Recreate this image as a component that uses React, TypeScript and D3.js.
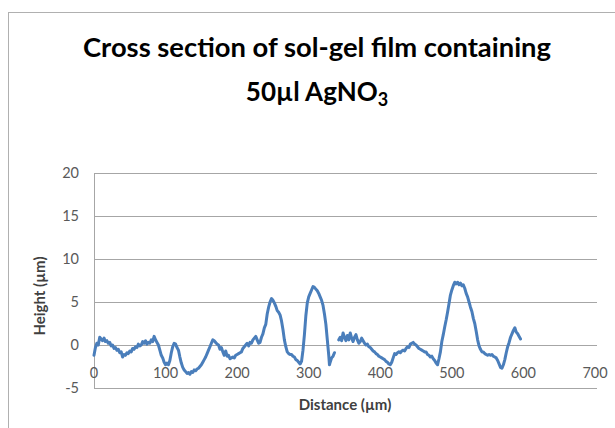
import * as d3 from "d3"

const distance = [
  0, 2, 4, 6, 8, 10, 12, 14, 16, 18, 20, 22, 24, 26, 28, 30, 32, 34, 36, 38,
  40, 42, 44, 46, 48, 50, 52, 54, 56, 58, 60, 62, 64, 66, 68, 70, 72, 74, 76, 78,
  80, 82, 84, 86, 88, 90, 92, 94, 96, 98, 100, 102, 104, 106, 108, 110, 112, 114, 116, 118,
  120, 122, 124, 126, 128, 130, 132, 134, 136, 138, 140, 142, 144, 146, 148, 150, 152, 154, 156, 158,
  160, 162, 164, 166, 168, 170, 172, 174, 176, 178, 180, 182, 184, 186, 188, 190, 192, 194, 196, 198,
  200, 202, 204, 206, 208, 210, 212, 214, 216, 218, 220, 222, 224, 226, 228, 230, 232, 234, 236, 238,
  240, 242, 244, 246, 248, 250, 252, 254, 256, 258, 260, 262, 264, 266, 268, 270, 272, 274, 276, 278,
  280, 282, 284, 286, 288, 290, 292, 294, 296, 298, 300, 302, 304, 306, 308, 310, 312, 314, 316, 318,
  320, 322, 324, 326, 328, 329, 330, 332, 334, 336, 338,
  342, 344, 346, 348, 350, 352, 354, 356, 358, 360, 362, 364, 366, 368, 370, 372, 374, 376, 378,
  380, 382, 384, 386, 388, 390, 392, 394, 396, 398, 400, 402, 404, 406, 408, 410, 412, 414, 416, 418,
  420, 422, 424, 426, 428, 430, 432, 434, 436, 438, 440, 442, 444, 446, 448, 450, 452, 454, 456, 458,
  460, 462, 464, 466, 468, 470, 472, 474, 476, 478, 480, 482, 484, 486, 488, 490, 492, 494, 496, 498,
  500, 502, 504, 506, 508, 510, 512, 514, 516, 518, 520, 522, 524, 526, 528, 530, 532, 534, 536, 538,
  540, 542, 544, 546, 548, 550, 552, 554, 556, 558, 560, 562, 564, 566, 568, 570, 572, 574, 576, 578,
  580, 582, 584, 586, 588, 590, 592, 594, 596,
]

// null = gap in the profile
const height: (number | null)[] = [
  -1.2, -0.3, 0.2, 0.0, 0.9, 0.7, 0.5, 0.8, 0.4, 0.5, 0.2, 0.3, -0.1, 0.0, -0.4, -0.3, -0.6, -0.5, -0.9, -0.8,
  -1.4, -1.1, -1.2, -0.9, -1.0, -0.7, -0.8, -0.4, -0.5, -0.2, -0.3, 0.1, -0.1, 0.0, 0.4, 0.2, 0.5, 0.1, 0.3, 0.2,
  0.6, 0.4, 1.0, 0.6, 0.3, 0.0, -0.6, -1.2, -1.5, -2.0, -2.3, -2.1, -2.3, -1.8, -0.9, -0.2, 0.2, 0.1, -0.3, -0.6,
  -1.4, -2.1, -2.6, -2.9, -3.1, -3.3, -3.2, -3.4, -3.1, -3.2, -2.9, -3.0, -2.8, -2.7, -2.5, -2.3, -2.0, -1.7, -1.4, -1.0,
  -0.6, -0.2, 0.2, 0.6, 0.5, 0.3, 0.1, 0.0, -0.5, -0.3, -0.8, -1.2, -0.7, -1.3, -1.2, -1.6, -1.5, -1.4, -1.5, -1.2,
  -1.1, -1.0, -0.9, -0.8, -0.4, -0.2, 0.0, 0.2, -0.1, 0.3, 0.2, 0.6, 0.8, 1.0, 0.6, 0.2, 0.3, 0.9, 1.3, 2.0,
  2.4, 3.6, 4.4, 5.0, 5.4, 5.2, 4.9, 4.5, 4.0, 3.8, 3.5, 2.8, 1.8, 0.6, -0.2, -0.8, -1.0, -1.1, -1.1, -1.3,
  -1.4, -1.7, -1.8, -2.0, -2.2, -1.9, -0.6, 1.2, 3.4, 4.9, 5.6, 6.0, 6.4, 6.8, 6.7, 6.5, 6.3, 6.0, 5.6, 5.2,
  4.6, 3.6, 2.4, 0.6, -1.2, -2.3, -2.0, -1.5, -1.3, -0.9, null,
  0.6, 0.9, 0.5, 1.4, 0.9, 0.5, 1.1, 0.6, 1.4, 0.8, 0.4, 0.9, 1.2, 0.6, 0.2, 0.4, 0.8, 0.5, 0.2,
  0.0, 0.1, -0.2, -0.3, -0.5, -0.7, -0.8, -1.0, -1.1, -1.3, -1.4, -1.5, -1.6, -1.7, -1.9, -2.0, -2.2, -2.3, -2.0, -1.5,
  -1.0, -1.1, -0.9, -0.8, -0.9, -0.7, -0.6, -0.7, -0.4, -0.2, -0.3, 0.1, 0.2, 0.3, 0.1, 0.0, -0.2, -0.4, -0.5, -0.6,
  -0.7, -0.8, -0.8, -1.1, -1.2, -1.4, -1.3, -1.6, -1.8, -2.1, -2.3, -1.6, -0.8, 0.4, 1.2, 2.1, 2.9, 3.8, 4.8, 5.8,
  6.4, 6.9, 7.3, 7.1, 7.3, 7.0, 7.2, 6.9, 7.0, 6.6, 6.0, 5.6, 5.0, 4.4, 3.9, 3.1, 2.5, 1.6, 0.6, -0.1,
  -0.5, -0.8, -0.8, -1.0, -1.1, -1.2, -1.1, -1.2, -1.1, -1.3, -1.4, -1.5, -1.8, -2.2, -2.6, -2.7, -2.3, -1.7, -0.9, -0.2,
  0.3, 0.9, 1.3, 1.7, 2.0, 1.5, 1.3, 1.0, 0.7,
]

const xTicks = [0, 100, 200, 300, 400, 500, 600, 700]
const yTicks = [-5, 0, 5, 10, 15, 20]

const W = 615
const H = 428
const FONT = "Lato, 'Open Sans', sans-serif"

export default function App() {
  const x = d3.scaleLinear().domain([0, 700]).range([94, 595])
  const y = d3.scaleLinear().domain([-5, 20]).range([388, 173])

  const pts = distance.map((d, i) => ({ d, h: height[i] }))
  const line = d3
    .line<{ d: number; h: number | null }>()
    .defined((p) => p.h !== null)
    .x((p) => x(p.d))
    .y((p) => y(p.h as number))

  return (
    <svg
      width={W}
      height={H}
      style={{ position: "absolute", left: 0, top: 0, background: "#fff" }}
    >
      <rect x={8.5} y={12.5} width={W} height={H} fill="#fff" stroke="#b0b0b0" />

      {/* title */}
      <text
        x={317}
        y={57}
        textAnchor="middle"
        fontFamily={FONT}
        fontWeight="bold"
        fontSize={26}
        textLength={468}
        lengthAdjust="spacingAndGlyphs"
        fill="#000"
      >
        Cross section of sol-gel film containing
      </text>
      <text x={317} y={101} textAnchor="middle" fontFamily={FONT} fontWeight="bold" fontSize={26} fill="#000">
        50µl AgNO<tspan fontSize={18} dy={5}>3</tspan>
      </text>

      {/* grid */}
      {yTicks.map((t) => (
        <line key={t} x1={94} x2={597} y1={y(t) + 0.5} y2={y(t) + 0.5} stroke="#a6a6a6" strokeWidth={1} />
      ))}
      <line x1={94.5} x2={94.5} y1={y(20)} y2={y(-5)} stroke="#a6a6a6" />

      {/* y tick labels */}
      {yTicks.map((t) => (
        <text
          key={t}
          x={79}
          y={y(t) + 5}
          textAnchor="end"
          fontFamily={FONT}
          fontSize={14.5}
          fill="#595959"
        >
          {t}
        </text>
      ))}

      {/* x tick labels */}
      {xTicks.map((t) => (
        <text
          key={t}
          x={x(t)}
          y={378}
          textAnchor="middle"
          fontFamily={FONT}
          fontSize={14.5}
          fill="#595959"
        >
          {t}
        </text>
      ))}

      {/* axis titles */}
      <text
        transform={`translate(45,296) rotate(-90)`}
        textAnchor="middle"
        fontFamily={FONT}
        fontWeight="bold"
        fontSize={15}
        fill="#404040"
      >
        Height (µm)
      </text>
      <text x={345} y={410} textAnchor="middle" fontFamily={FONT} fontWeight="bold" fontSize={15} fill="#404040">
        Distance (µm)
      </text>

      <path
        d={line(pts) || ""}
        fill="none"
        stroke="#4a7ebb"
        strokeWidth={3}
        strokeLinejoin="round"
        strokeLinecap="round"
      />
    </svg>
  )
}
